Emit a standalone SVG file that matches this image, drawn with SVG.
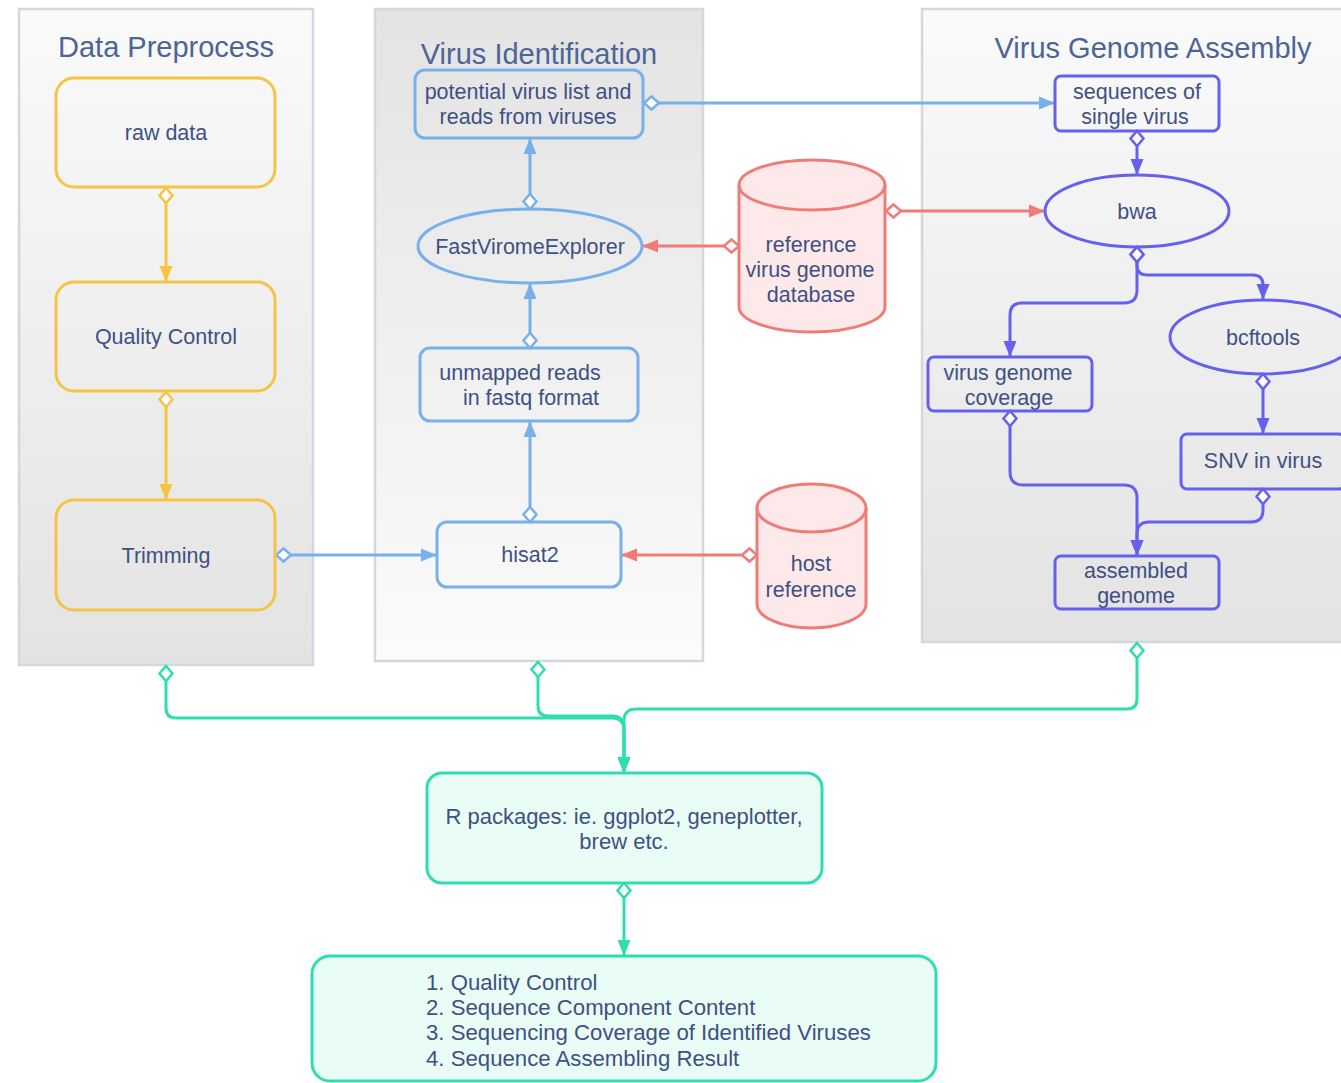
<svg xmlns="http://www.w3.org/2000/svg" width="1341" height="1083" viewBox="0 0 1341 1083">
<defs>
<linearGradient id="gDown" x1="0" y1="0" x2="0" y2="1"><stop offset="0" stop-color="#fafafb"/><stop offset="1" stop-color="#e3e3e4"/></linearGradient>
<linearGradient id="gUp" x1="0" y1="0" x2="0" y2="1"><stop offset="0" stop-color="#e3e3e4"/><stop offset="1" stop-color="#fbfbfc"/></linearGradient>
<marker id="dY" markerUnits="userSpaceOnUse" orient="auto" refX="0" refY="0" markerWidth="20" markerHeight="16" viewBox="-2 -8 20 16" overflow="visible"><path d="M0,0 L7.5,-6.5 L15,0 L7.5,6.5 Z" fill="#fff" stroke="#f5c443" stroke-width="2.5"/></marker>
<marker id="aY" markerUnits="userSpaceOnUse" orient="auto" refX="16" refY="0" markerWidth="18" markerHeight="16" viewBox="0 -8 18 16" overflow="visible"><path d="M0,-6.5 L16,0 L0,6.5 Z" fill="#f5c443"/></marker>
<marker id="dB" markerUnits="userSpaceOnUse" orient="auto" refX="0" refY="0" markerWidth="20" markerHeight="16" viewBox="-2 -8 20 16" overflow="visible"><path d="M0,0 L7.5,-6.5 L15,0 L7.5,6.5 Z" fill="#fff" stroke="#78b0ec" stroke-width="2.5"/></marker>
<marker id="aB" markerUnits="userSpaceOnUse" orient="auto" refX="16" refY="0" markerWidth="18" markerHeight="16" viewBox="0 -8 18 16" overflow="visible"><path d="M0,-6.5 L16,0 L0,6.5 Z" fill="#78b0ec"/></marker>
<marker id="dR" markerUnits="userSpaceOnUse" orient="auto" refX="0" refY="0" markerWidth="20" markerHeight="16" viewBox="-2 -8 20 16" overflow="visible"><path d="M0,0 L7.5,-6.5 L15,0 L7.5,6.5 Z" fill="#fff" stroke="#f07c78" stroke-width="2.5"/></marker>
<marker id="aR" markerUnits="userSpaceOnUse" orient="auto" refX="16" refY="0" markerWidth="18" markerHeight="16" viewBox="0 -8 18 16" overflow="visible"><path d="M0,-6.5 L16,0 L0,6.5 Z" fill="#f07c78"/></marker>
<marker id="dP" markerUnits="userSpaceOnUse" orient="auto" refX="0" refY="0" markerWidth="20" markerHeight="16" viewBox="-2 -8 20 16" overflow="visible"><path d="M0,0 L7.5,-6.5 L15,0 L7.5,6.5 Z" fill="#fff" stroke="#6660ee" stroke-width="2.5"/></marker>
<marker id="aP" markerUnits="userSpaceOnUse" orient="auto" refX="16" refY="0" markerWidth="18" markerHeight="16" viewBox="0 -8 18 16" overflow="visible"><path d="M0,-6.5 L16,0 L0,6.5 Z" fill="#6660ee"/></marker>
<marker id="dT" markerUnits="userSpaceOnUse" orient="auto" refX="0" refY="0" markerWidth="20" markerHeight="16" viewBox="-2 -8 20 16" overflow="visible"><path d="M0,0 L7.5,-6.5 L15,0 L7.5,6.5 Z" fill="#fff" stroke="#30ddb0" stroke-width="2.5"/></marker>
<marker id="aT" markerUnits="userSpaceOnUse" orient="auto" refX="16" refY="0" markerWidth="18" markerHeight="16" viewBox="0 -8 18 16" overflow="visible"><path d="M0,-6.5 L16,0 L0,6.5 Z" fill="#30ddb0"/></marker>
</defs>
<style>
text{font-family:"Liberation Sans",Arial,sans-serif;fill:#3f5183;text-anchor:middle}
.title{font-size:29px;fill:#4d6496}
.t{font-size:21.5px}
.l{font-size:22.2px;text-anchor:start}
.cont{stroke:#d3d8dd;stroke-width:2.5}
.y{fill:none;stroke:#f5c443;stroke-width:3}
.b{fill:none;stroke:#78b0ec;stroke-width:3}
.r{fill:#fde9ea;stroke:#f07c78;stroke-width:3}
.p{fill:none;stroke:#6660ee;stroke-width:3}
.tl{fill:#e9fdf6;stroke:#30ddb0;stroke-width:3}
.c{fill:none;stroke-width:3}
.cy{stroke:#f5c443;marker-start:url(#dY);marker-end:url(#aY)}
.cb{stroke:#78b0ec;marker-start:url(#dB);marker-end:url(#aB)}
.cr{stroke:#f07c78;marker-start:url(#dR);marker-end:url(#aR)}
.cp{stroke:#6660ee;marker-start:url(#dP);marker-end:url(#aP)}
.ct{stroke:#30ddb0;marker-start:url(#dT);marker-end:url(#aT)}
</style>
<rect width="1341" height="1083" fill="#ffffff"/>
<g id="group-data-preprocess">
<rect class="cont" x="19" y="9" width="294" height="656" fill="url(#gDown)"/>
<text class="title" x="166" y="57">Data Preprocess</text>
</g>
<g id="group-virus-identification">
<rect class="cont" x="375" y="9" width="328" height="652" fill="url(#gUp)"/>
<text class="title" x="539" y="64">Virus Identification</text>
</g>
<g id="group-virus-genome-assembly">
<rect class="cont" x="922" y="9" width="424" height="633" fill="url(#gDown)"/>
<text class="title" x="1153" y="58">Virus Genome Assembly</text>
</g>
<g id="connectors">
<path class="c cy" d="M166,188 V282"/>
<path class="c cy" d="M166,392 V500"/>
<path class="c cb" d="M276,555 H437"/>
<path class="c cb" d="M530,522 V421"/>
<path class="c cb" d="M530,348 V283"/>
<path class="c cb" d="M530,209 V138"/>
<path class="c cb" d="M644,103 H1055"/>
<path class="c cr" d="M739,246 H642"/>
<path class="c cr" d="M886,211 H1045"/>
<path class="c cr" d="M757,555 H621"/>
<path class="c cp" d="M1137,131 V175"/>
<path class="c cp" d="M1137,247 V290 Q1137,303 1124,303 H1022 Q1010,303 1010,315 V357"/>
<path class="c cp" d="M1137,247 V265 Q1137,275 1147,275 H1253 Q1263,275 1263,285 V300"/>
<path class="c cp" d="M1263,374 V434"/>
<path class="c cp" d="M1263,489 V510 Q1263,522 1251,522 H1149 Q1137,522 1137,534 V556"/>
<path class="c cp" d="M1010,411 V472 Q1010,485 1023,485 H1124 Q1137,485 1137,498 V556"/>
<path class="c ct" d="M166,666 V708 Q166,718 176,718 H612 Q624,718 624,730 V773"/>
<path class="c ct" d="M538,662 V706 Q538,716 548,716 H612 Q624,716 624,728 V773"/>
<path class="c ct" d="M1137,643 V699 Q1137,709 1127,709 H636 Q624,709 624,721 V773"/>
<path class="c ct" d="M624,883 V956"/>
</g>
<g id="node-raw-data"><rect class="y" x="56" y="78" width="219" height="109" rx="18"/><text class="t" x="166" y="140">raw data</text></g>
<g id="node-quality-control"><rect class="y" x="56" y="282" width="219" height="109" rx="18"/><text class="t" x="166" y="344">Quality Control</text></g>
<g id="node-trimming"><rect class="y" x="56" y="500" width="219" height="110" rx="18"/><text class="t" x="166" y="563">Trimming</text></g>
<g id="node-potential-virus"><rect class="b" x="415" y="70" width="228" height="68" rx="10"/><text class="t" x="528" y="99">potential virus list and</text><text class="t" x="528" y="124">reads from viruses</text></g>
<g id="node-fastviromeexplorer"><ellipse class="b" cx="530" cy="246" rx="112" ry="37"/><text class="t" x="530" y="254">FastViromeExplorer</text></g>
<g id="node-unmapped-reads"><rect class="b" x="420" y="348" width="218" height="73" rx="10"/><text class="t" x="520" y="380">unmapped reads</text><text class="t" x="531" y="405">in fastq format</text></g>
<g id="node-hisat2"><rect class="b" x="437" y="522" width="184" height="65" rx="10"/><text class="t" x="530" y="562">hisat2</text></g>
<g id="node-reference-db"><path class="r" d="M739,185 A73,25 0 0 1 885,185 V307 A73,25 0 0 1 739,307 Z"/><path fill="none" stroke="#f07c78" stroke-width="3" d="M739,185 A73,25 0 0 0 885,185"/><text class="t" x="811" y="252">reference</text><text class="t" x="810" y="277">virus genome</text><text class="t" x="811" y="302">database</text></g>
<g id="node-host-reference"><path class="r" d="M757,508 A54.5,24 0 0 1 866,508 V604 A54.5,24 0 0 1 757,604 Z"/><path fill="none" stroke="#f07c78" stroke-width="3" d="M757,508 A54.5,24 0 0 0 866,508"/><text class="t" x="811" y="571">host</text><text class="t" x="811" y="597">reference</text></g>
<g id="node-sequences"><rect class="p" x="1055" y="76" width="164" height="55" rx="6"/><text class="t" x="1137" y="99">sequences of</text><text class="t" x="1135" y="124">single virus</text></g>
<g id="node-bwa"><ellipse class="p" cx="1137" cy="211" rx="92" ry="36"/><text class="t" x="1137" y="219">bwa</text></g>
<g id="node-bcftools"><ellipse class="p" cx="1263" cy="337" rx="93" ry="37"/><text class="t" x="1263" y="345">bcftools</text></g>
<g id="node-virus-genome-coverage"><rect class="p" x="928" y="357" width="164" height="54" rx="6"/><text class="t" x="1008" y="380">virus genome</text><text class="t" x="1009" y="405">coverage</text></g>
<g id="node-snv"><rect class="p" x="1181" y="434" width="164" height="55" rx="6"/><text class="t" x="1263" y="468">SNV in virus</text></g>
<g id="node-assembled-genome"><rect class="p" x="1055" y="556" width="164" height="53" rx="6"/><text class="t" x="1136" y="578">assembled</text><text class="t" x="1136" y="603">genome</text></g>
<g id="node-r-packages"><rect class="tl" x="427" y="773" width="395" height="110" rx="15"/><text class="t" x="624" y="824" style="font-size:22px">R packages: ie. ggplot2, geneplotter,</text><text class="t" x="624" y="849" style="font-size:22px">brew etc.</text></g>
<g id="node-results"><rect class="tl" x="312" y="956" width="624" height="125" rx="18"/>
<text class="l" x="426" y="990">1. Quality Control</text>
<text class="l" x="426" y="1015">2. Sequence Component Content</text>
<text class="l" x="426" y="1040">3. Sequencing Coverage of Identified Viruses</text>
<text class="l" x="426" y="1066">4. Sequence Assembling Result</text></g>
</svg>
